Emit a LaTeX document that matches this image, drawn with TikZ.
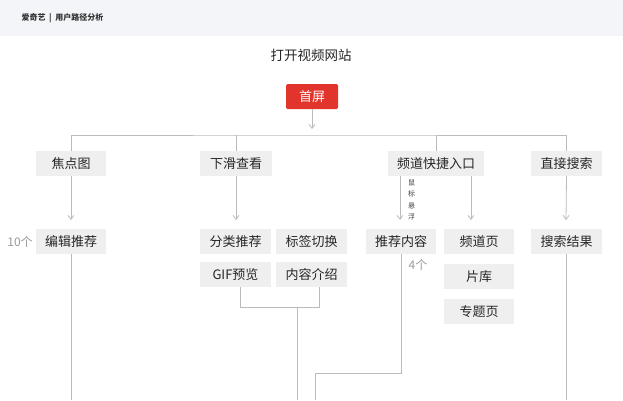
\documentclass[tikz,border=0pt]{standalone}
\usepackage{fontspec}
\setmainfont{Noto Sans CJK SC}
\usetikzlibrary{arrows.meta}
\definecolor{hdr}{HTML}{F4F5F9}
\definecolor{boxg}{HTML}{EFEFEF}
\definecolor{lin}{HTML}{BBBBBB}
\definecolor{redb}{HTML}{E0342C}
\begin{document}
\begin{tikzpicture}[x=1pt,y=-1pt,
  bx/.style={fill=boxg,minimum height=25pt,inner sep=0pt,font=\fontsize{13}{14}\selectfont,text=black!85},
  ln/.style={draw=lin,line width=0.8pt},
  ar/.style={ln,-{Straight Barb[length=4pt,width=6pt]}}]
\useasboundingbox (0,0) rectangle (623,400);
\fill[hdr] (0,0) rectangle (623,36);
\node[anchor=west,font=\fontsize{8}{9}\selectfont\bfseries,text=black!80] (hd) at (18,18) {爱奇艺\ \ |\ \ 用户路径分析};
\node[font=\fontsize{13.5}{15}\selectfont,text=black!85] (t) at (311,55) {打开视频网站};
\node[fill=redb,text=white,minimum width=52pt,minimum height=25pt,inner sep=0pt,rounded corners=1.5pt,font=\fontsize{13}{14}\selectfont] (home) at (312,96.5) {首屏};
\coordinate (ha) at (312,129);
\draw[ar] (home.south) -- (ha);
% row 1
\node[bx,minimum width=70pt] (a1) at (71,163.5) {焦点图};
\node[bx,minimum width=72pt] (b1) at (236,163.5) {下滑查看};
\node[bx,minimum width=96pt] (c1) at (436,163.5) {频道快捷入口};
\node[bx,minimum width=71pt] (d1) at (566.5,163.5) {直接搜索};
\draw[ln] (a1.north) |- (312,135) -| (d1.north);
\draw[ln] (b1.north) -- (236,135);
\draw[ln] (c1.north) -- (436,135);
% row 2
\node[bx,minimum width=70pt] (a2) at (71,241.5) {编辑推荐};
\node[bx,minimum width=71pt] (b2) at (235.5,241.5) {分类推荐};
\node[bx,minimum width=71pt] (b3) at (311.5,241.5) {标签切换};
\node[bx,minimum width=70pt] (c2) at (401,241.5) {推荐内容};
\node[bx,minimum width=70pt] (c3) at (479,241.5) {频道页};
\node[bx,minimum width=71pt] (d2) at (566.5,241.5) {搜索结果};
\node[bx,minimum width=71pt] (b4) at (235.5,274.5) {GIF预览};
\node[bx,minimum width=71pt] (b5) at (311.5,274.5) {内容介绍};
\node[bx,minimum width=70pt] (c4) at (479,276.5) {片库};
\node[bx,minimum width=70pt] (c5) at (479,311.5) {专题页};
\node[text=black!40,font=\fontsize{12}{12}\selectfont] (n10) at (20,241.5) {10个};
\node[text=black!40,font=\fontsize{12}{12}\selectfont] (n4) at (418,265) {4个};
\node[font=\fontsize{7}{11.5}\selectfont,align=center,text=black!75,inner sep=0pt] (hov) at (411.5,200) {鼠\\标\\悬\\浮};
% arrows
\draw[ar] (a1.south) -- (71,220);
\draw[ar] (b1.south) -- (236,220);
\draw[ar] (400,176) -- (400,220);
\draw[ar] (471,176) -- (471,220);
\draw[ar] (d1.south) -- (566,220);
% bottom lines
\draw[ln] (a2.south) -- (71,400);
\draw[ln] (d2.south) -- (566.5,400);
\draw[ln] (240,287) |- (319,307) -- (319,287);
\draw[ln] (297,307) -- (297,400);
\draw[ln] (c2.south) |- (315,373) -- (315,400);
\end{tikzpicture}
\end{document}
